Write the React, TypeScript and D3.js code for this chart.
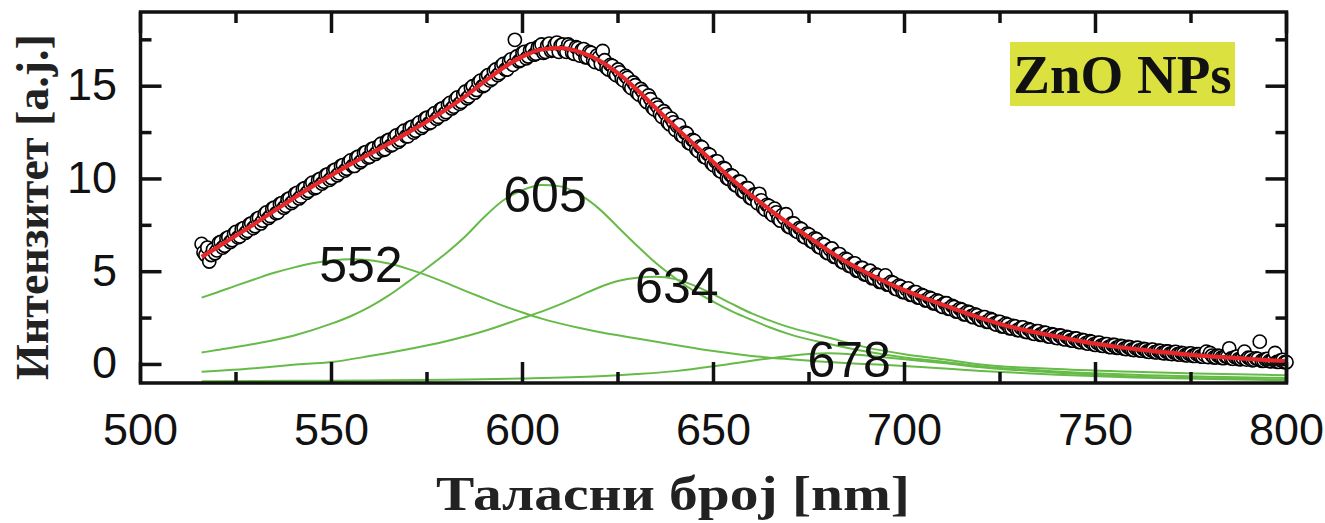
import React from "react";
import * as d3 from "d3";

// ---- data ----
const xTicks = [500, 550, 600, 650, 700, 750, 800];
const xMinorTicks = [525, 575, 625, 675, 725, 775];
const yTicks = [0, 5, 10, 15];
const yMinorTicks = [2.5, 7.5, 12.5, 17.5];

// measured points on whole nm: 516, 517, ... 800
const measuredStart = 516;
const measured = [
  6.5, 5.9, 5.55, 6.2,
  6.15, 6.6, 6.4, 6.85, 6.7,
  7.15, 6.9, 7.35, 7.2, 7.6,
  7.45, 7.9, 7.75, 8.2, 8.0,
  8.45, 8.2, 8.7, 8.55, 8.95,
  8.8, 9.25, 9.05, 9.5, 9.35,
  9.8, 9.55, 10.0, 9.85, 10.25,
  10.05, 10.5, 10.3, 10.75, 10.55,
  11.0, 10.7, 11.2, 11.0, 11.45,
  11.2, 11.65, 11.45, 11.9, 11.6,
  12.1, 11.85, 12.35, 12.1, 12.6,
  12.3, 12.8, 12.6, 13.05, 12.85,
  13.3, 13.05, 13.55, 13.35, 13.8,
  13.6, 14.1, 13.9, 14.4, 14.15,
  14.7, 14.45, 15.0, 14.8, 15.3,
  15.05, 15.6, 15.4, 15.9, 15.7,
  16.2, 15.9, 16.45, 17.5, 16.35,
  16.8, 16.5, 16.95, 16.7, 17.1,
  17.25, 16.85, 17.3, 16.95, 17.35,
  17.2, 16.9, 17.25, 16.8, 17.1,
  16.65, 17.0, 16.55, 16.8, 16.3,
  16.55, 16.9, 16.0, 16.15, 15.7,
  15.9, 15.4, 15.55, 15.0, 15.2,
  14.65, 14.85, 14.3, 14.5, 13.85,
  14.0, 13.5, 13.65, 13.05, 13.25,
  12.65, 12.9, 12.3, 12.45, 11.9,
  12.05, 11.5, 11.7, 11.15, 11.3,
  10.75, 10.95, 10.4, 10.55, 10.0,
  10.15, 9.65, 9.85, 9.3, 9.5,
  8.95, 9.15, 9.2, 8.45, 8.6,
  8.15, 8.4, 7.85, 8.05, 8.1,
  7.4, 7.6, 7.15, 7.3, 6.85,
  7.0, 6.6, 6.75, 6.3, 6.45,
  6.0, 6.25, 5.8, 5.95, 5.5,
  5.65, 5.3, 5.45, 5.05, 5.2,
  4.85, 5.05, 4.65, 4.8, 4.45,
  4.8, 4.3, 4.4, 4.05, 4.2,
  3.9, 4.1, 3.75, 3.9, 3.6,
  3.7, 3.45, 3.55, 3.3, 3.4,
  3.1, 3.3, 3.0, 3.1, 2.85,
  2.95, 2.7, 2.8, 2.55, 2.65,
  2.4, 2.55, 2.3, 2.4, 2.15,
  2.3, 2.05, 2.15, 1.95, 2.05,
  1.85, 2.0, 1.75, 1.85, 1.65,
  1.8, 1.6, 1.7, 1.5, 1.6,
  1.42, 1.55, 1.35, 1.45, 1.28,
  1.4, 1.2, 1.3, 1.12, 1.22,
  1.05, 1.18, 1.0, 1.1, 0.93,
  1.05, 0.9, 0.98, 0.83, 0.93,
  0.78, 0.9, 0.74, 0.82, 0.68,
  0.8, 0.65, 0.73, 0.6, 0.7,
  0.56, 0.68, 0.53, 0.6, 0.49,
  0.6, 0.46, 0.55, 0.42, 0.69,
  0.62, 0.38, 0.48, 0.36, 0.44,
  0.87, 0.3, 0.42, 0.28, 0.69,
  0.36, 0.22, 0.33, 1.23, 0.2,
  0.3, 0.17, 0.62, 0.14, 0.25,
  0.12,
];

// measured points on half nm: 516.5, 517.5, ... 799.5
const measuredHalfStart = 516.5;
const measuredHalf = [
  6.05, 6.3, 5.9, 6.0,
  6.55, 6.3, 6.8, 6.6, 7.05,
  6.85, 7.3, 7.1, 7.55, 7.35,
  7.85, 7.6, 8.1, 7.9, 8.4,
  8.15, 8.65, 8.45, 8.9, 8.7,
  9.2, 8.95, 9.45, 9.25, 9.7,
  9.5, 9.95, 9.75, 10.2, 9.95,
  10.45, 10.2, 10.7, 10.45, 10.9,
  10.7, 11.15, 10.9, 11.4, 11.15,
  11.6, 11.35, 11.8, 11.55, 12.05,
  11.8, 12.25, 12.0, 12.5, 12.3,
  12.75, 12.5, 12.95, 12.75, 13.25,
  13.0, 13.45, 13.25, 13.75, 13.5,
  14.0, 13.8, 14.3, 14.05, 14.55,
  14.35, 14.9, 14.65, 15.2, 15.0,
  15.5, 15.3, 15.8, 15.6, 16.1,
  15.9, 16.35, 16.15, 16.6, 16.4,
  16.85, 16.6, 17.0, 16.75, 17.15,
  16.8, 17.2, 16.9, 17.25, 16.85,
  17.25, 16.85, 17.15, 16.75, 17.05,
  16.95, 16.55, 16.85, 16.4, 16.65,
  16.2, 16.4, 15.9, 16.1, 15.6,
  15.75, 15.3, 15.45, 14.9, 15.05,
  14.55, 14.7, 14.15, 14.3, 13.75,
  13.85, 13.35, 13.5, 12.95, 13.05,
  12.85, 12.35, 12.5, 11.95, 12.1,
  11.6, 11.75, 11.2, 11.35, 10.85,
  10.95, 10.45, 10.6, 10.05, 10.2,
  9.7, 9.85, 9.35, 9.5, 9.0,
  9.15, 8.7, 8.85, 8.35, 8.55,
  8.05, 8.2, 7.75, 7.9, 7.45,
  7.6, 7.2, 7.35, 6.9, 7.05,
  6.65, 6.8, 6.35, 6.5, 6.05,
  6.2, 5.8, 5.95, 5.55, 5.7,
  5.3, 5.45, 5.05, 5.2, 4.85,
  5.0, 4.65, 4.85, 4.45, 4.6,
  4.3, 4.45, 4.1, 4.25, 3.9,
  4.05, 3.75, 3.9, 3.6, 3.75,
  3.45, 3.6, 3.3, 3.45, 3.15,
  3.3, 3.0, 3.15, 2.85, 3.0,
  2.7, 2.85, 2.6, 2.7, 2.45,
  2.55, 2.3, 2.45, 2.2, 2.3,
  2.05, 2.2, 1.95, 2.08, 1.85,
  1.98, 1.78, 1.9, 1.68, 1.8,
  1.6, 1.72, 1.52, 1.63, 1.45,
  1.56, 1.38, 1.48, 1.3, 1.4,
  1.22, 1.32, 1.15, 1.25, 1.08,
  1.16, 1.02, 1.1, 0.95, 1.05,
  0.9, 1.0, 0.85, 0.94, 0.8,
  0.88, 0.76, 0.84, 0.7, 0.78,
  0.66, 0.74, 0.62, 0.7, 0.58,
  0.66, 0.55, 0.62, 0.5, 0.58,
  0.47, 0.56, 0.44, 0.52, 0.4,
  0.48, 0.38, 0.45, 0.34, 0.42,
  0.32, 0.4, 0.29, 0.36, 0.26,
  0.34, 0.24, 0.3, 0.2, 0.28,
  0.18, 0.26, 0.14, 0.22, 0.12,
];

const fitNm = [516, 520, 525, 530, 535, 540, 545, 550, 555, 560, 565, 570, 575, 580, 585, 590, 595, 600, 605, 610, 615, 620, 625, 630, 635, 640, 645, 650, 655, 660, 665, 670, 675, 680, 685, 690, 695, 700, 705, 710, 715, 720, 725, 730, 735, 740, 745, 750, 755, 760, 765, 770, 775, 780, 785, 790, 795, 800];
const fitValues = [5.8, 6.3, 6.95, 7.6, 8.28, 8.95, 9.6, 10.2, 10.8, 11.35, 11.9, 12.5, 13.1, 13.75, 14.45, 15.25, 16.0, 16.6, 16.98, 17.05, 16.85, 16.4, 15.7, 14.8, 13.8, 12.8, 11.85, 10.9, 9.95, 9.1, 8.3, 7.55, 6.85, 6.15, 5.5, 4.95, 4.45, 4.0, 3.6, 3.22, 2.85, 2.5, 2.18, 1.92, 1.7, 1.5, 1.3, 1.12, 0.97, 0.84, 0.72, 0.62, 0.52, 0.44, 0.37, 0.3, 0.23, 0.17];

const peak552Nm = [516, 520, 525, 530, 535, 540, 545, 550, 555, 560, 565, 570, 575, 580, 585, 590, 595, 600, 605, 610, 615, 620, 625, 630, 640, 650, 660, 670, 680, 690, 700, 720, 740, 760, 780, 800];
const peak552 = [3.6, 3.88, 4.25, 4.6, 4.94, 5.22, 5.45, 5.6, 5.67, 5.62, 5.44, 5.15, 4.8, 4.4, 3.97, 3.56, 3.16, 2.8, 2.47, 2.2, 1.96, 1.75, 1.57, 1.4, 1.05, 0.72, 0.46, 0.28, 0.13, 0.02, -0.08, -0.35, -0.55, -0.7, -0.78, -0.85];

const peak605Nm = [516, 520, 530, 540, 550, 555, 560, 565, 570, 575, 580, 585, 590, 595, 600, 605, 610, 615, 620, 625, 630, 635, 640, 645, 650, 655, 660, 665, 670, 680, 690, 700, 710, 720, 740, 760, 780, 800];
const peak605 = [0.64, 0.78, 1.12, 1.55, 2.2, 2.6, 3.1, 3.72, 4.45, 5.2, 6.0, 6.9, 7.95, 8.85, 9.4, 9.68, 9.6, 9.15, 8.4, 7.4, 6.4, 5.45, 4.65, 3.95, 3.38, 2.85, 2.4, 1.98, 1.62, 1.12, 0.7, 0.38, 0.15, -0.1, -0.38, -0.56, -0.66, -0.73];

const peak634Nm = [516, 530, 540, 550, 560, 570, 580, 590, 600, 605, 610, 615, 620, 625, 630, 635, 640, 645, 650, 655, 660, 665, 670, 675, 680, 690, 700, 710, 720, 740, 760, 780, 800];
const peak634 = [-0.39, -0.2, -0.02, 0.13, 0.45, 0.82, 1.25, 1.8, 2.5, 2.85, 3.25, 3.7, 4.15, 4.5, 4.68, 4.73, 4.6, 4.25, 3.78, 3.25, 2.75, 2.35, 2.0, 1.72, 1.45, 0.92, 0.55, 0.28, 0.0, -0.25, -0.4, -0.5, -0.58];

const peak678Nm = [516, 540, 560, 580, 600, 620, 630, 640, 650, 655, 660, 665, 670, 675, 680, 685, 690, 700, 710, 720, 740, 760, 780, 800];
const peak678 = [-0.9, -0.88, -0.86, -0.82, -0.76, -0.64, -0.52, -0.36, -0.1, 0.05, 0.2, 0.34, 0.46, 0.56, 0.6, 0.57, 0.48, 0.28, 0.08, -0.15, -0.45, -0.65, -0.75, -0.82];

const peakLabels = ["552", "605", "634", "678"];
const peakLabelNm = [557.7, 605.9, 640.4, 685.5];
const peakLabelValue = [4.45, 8.2, 3.3, -0.67];

const components = [
  { nm: peak552Nm, v: peak552 },
  { nm: peak605Nm, v: peak605 },
  { nm: peak634Nm, v: peak634 },
  { nm: peak678Nm, v: peak678 },
];

export default function App() {
  const W = 1325;
  const H = 523;
  const left = 140.5, right = 1286.5, top = 12, bottom = 383;
  const x = d3.scaleLinear().domain([500, 800]).range([left, right]);
  const y = d3.scaleLinear().domain([-1, 19]).range([bottom, top]);

  const line = d3
    .line<[number, number]>()
    .x((d) => x(d[0]))
    .y((d) => y(d[1]))
    .curve(d3.curveMonotoneX);

  const fitPath = line(fitNm.map((n, i) => [n, fitValues[i]] as [number, number])) || "";
  const compPaths = components.map(
    (c) => line(c.nm.map((n, i) => [n, c.v[i]] as [number, number])) || ""
  );

  const points: [number, number][] = [
    ...measured.map((v, i) => [measuredStart + i, v] as [number, number]),
    ...measuredHalf.map((v, i) => [measuredHalfStart + i, v] as [number, number]),
  ].sort((a, b) => a[0] - b[0]);

  const major = 21;
  const minor = 11;
  const tickColor = "#111";

  const green = "#66bb48";
  const red = "#e8272b";

  return (
    <div style={{ position: "absolute", left: 0, top: 0 }}>
      <svg width={W} height={H} style={{ display: "block", background: "#fff" }}>
        {/* components */}
        {compPaths.map((p, i) => (
          <path key={"c" + i} d={p} fill="none" stroke={green} strokeWidth={2} />
        ))}
        {/* measured circles */}
        {points.map((p, i) => (
          <circle
            key={"m" + i}
            cx={x(p[0])}
            cy={y(p[1])}
            r={6.6}
            fill="#fff"
            stroke="#000"
            strokeWidth={1.6}
          />
        ))}
        {/* fit */}
        <path d={fitPath} fill="none" stroke={red} strokeWidth={4.2} />

        {/* peak labels */}
        {peakLabels.map((t, i) => (
          <text
            key={"pl" + i}
            x={x(peakLabelNm[i])}
            y={y(peakLabelValue[i])}
            textAnchor="middle"
            fontFamily="'Liberation Sans', Arial, sans-serif"
            fontSize={50}
            fill="#111"
          >
            {t}
          </text>
        ))}

        {/* frame */}
        <rect
          x={left}
          y={top}
          width={right - left}
          height={bottom - top}
          fill="none"
          stroke="#111"
          strokeWidth={3.5}
        />
        {/* x ticks */}
        {xTicks.map((t) => (
          <g key={"xt" + t}>
            <line x1={x(t)} x2={x(t)} y1={bottom} y2={bottom - major} stroke={tickColor} strokeWidth={3.5} />
            <line x1={x(t)} x2={x(t)} y1={top} y2={top + major} stroke={tickColor} strokeWidth={3.5} />
            <text
              x={x(t)}
              y={445}
              textAnchor="middle"
              fontFamily="'Liberation Sans', Arial, sans-serif"
              fontSize={45}
              fill="#111"
            >
              {t}
            </text>
          </g>
        ))}
        {xMinorTicks.map((t) => (
          <g key={"xm" + t}>
            <line x1={x(t)} x2={x(t)} y1={bottom} y2={bottom - minor} stroke={tickColor} strokeWidth={3.5} />
            <line x1={x(t)} x2={x(t)} y1={top} y2={top + minor} stroke={tickColor} strokeWidth={3.5} />
          </g>
        ))}
        {/* y ticks */}
        {yTicks.map((t) => (
          <g key={"yt" + t}>
            <line x1={left} x2={left + major} y1={y(t)} y2={y(t)} stroke={tickColor} strokeWidth={3.5} />
            <line x1={right} x2={right - major} y1={y(t)} y2={y(t)} stroke={tickColor} strokeWidth={3.5} />
            <text
              x={117}
              y={y(t) + 14}
              textAnchor="end"
              fontFamily="'Liberation Sans', Arial, sans-serif"
              fontSize={45}
              fill="#111"
            >
              {t}
            </text>
          </g>
        ))}
        {yMinorTicks.map((t) => (
          <g key={"ym" + t}>
            <line x1={left} x2={left + minor} y1={y(t)} y2={y(t)} stroke={tickColor} strokeWidth={3.5} />
            <line x1={right} x2={right - minor} y1={y(t)} y2={y(t)} stroke={tickColor} strokeWidth={3.5} />
          </g>
        ))}

        {/* ZnO NPs label */}
        <rect x={1010} y={42} width={225} height={64} fill="#dbe240" />
        <text
          x={1122.5}
          y={93}
          textAnchor="middle"
          fontFamily="'Liberation Serif', 'Times New Roman', serif"
          fontWeight="bold"
          fontSize={55}
          fill="#111"
        >
          ZnO NPs
        </text>

        {/* axis titles */}
        <text
          x={673}
          y={510}
          textAnchor="middle"
          fontFamily="'Liberation Serif', 'Times New Roman', serif"
          fontWeight="bold"
          fontSize={48}
          textLength={474}
          lengthAdjust="spacingAndGlyphs"
          fill="#222"
        >
          Таласни број [nm]
        </text>
        <text
          transform={`translate(48, 207) rotate(-90)`}
          textAnchor="middle"
          fontFamily="'Liberation Serif', 'Times New Roman', serif"
          fontWeight="bold"
          fontSize={46}
          fill="#222"
        >
          Интензитет [а.ј.]
        </text>
      </svg>
    </div>
  );
}
